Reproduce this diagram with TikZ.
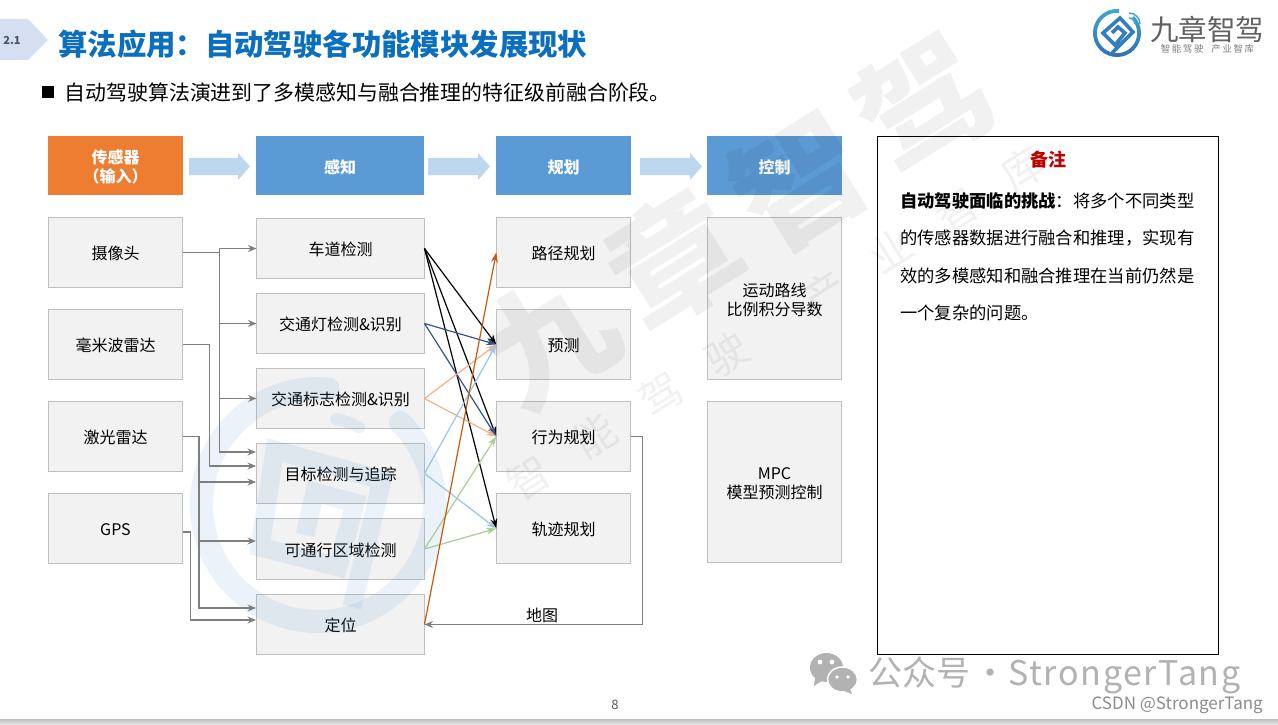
\documentclass[tikz,border=0pt]{standalone}
\usepackage{fontspec}
\setmainfont{Noto Sans CJK SC}
\usetikzlibrary{arrows.meta,calc}
\definecolor{hdrblue}{HTML}{5B9BD5}
\definecolor{hdrorange}{HTML}{ED7D31}
\definecolor{barrow}{HTML}{BDD7EE}
\definecolor{boxfill}{HTML}{F2F2F2}
\definecolor{boxline}{HTML}{BFBFBF}
\definecolor{conn}{HTML}{7F7F7F}
\definecolor{dkblue}{HTML}{2F5597}
\definecolor{ltorange}{HTML}{F4B183}
\definecolor{ltblue}{HTML}{9DC3E6}
\definecolor{ltgreen}{HTML}{A9D18E}
\definecolor{dkorange}{HTML}{C55A11}
\definecolor{titleblue}{HTML}{0B6FBE}
\definecolor{tagfill}{HTML}{D6DFF2}
\definecolor{tagtext}{HTML}{44546A}
\definecolor{logoA}{HTML}{3FA9C9}
\definecolor{logoB}{HTML}{2F6DB5}
\newcommand{\fs}[1]{\fontsize{#1}{#1}\selectfont}
\newcommand{\logomark}{(-5,20) -- (16,-1) -- (3,-15) -- (-14,0) -- (-2,12) -- (8,0) -- (1,-6) -- (-5,0)}
\newcommand{\gp}{\hspace{36pt}}
\tikzset{
  hdr/.style={draw=none,fill=hdrblue,text=white,font=\fs{16}\bfseries,minimum width=135pt,minimum height=59pt,inner sep=0pt,outer sep=0pt,text height=15pt,text depth=0pt},
  graybox/.style={draw=boxline,line width=0.9pt,fill=boxfill,text=black,font=\fs{16},minimum width=134.5pt,minimum height=70.5pt,inner sep=0pt,outer sep=0pt,text height=14pt,text depth=0pt},
  midbox/.style={graybox,minimum width=168pt,minimum height=60.5pt},
  twolines/.style={inner sep=0pt,align=center,font=\fontsize{16}{19}\selectfont},
  link/.style={draw=conn,line width=1.2pt,-{Stealth[length=8.5pt,width=7pt]}},
  plainline/.style={draw=conn,line width=1.2pt},
  cross/.style={line width=1.2pt,-{Stealth[length=10pt,width=7pt]}},
  blockarrow/.style={fill=barrow,draw=none},
}
\begin{document}
\begin{tikzpicture}[x=1pt,y=-1pt]
\useasboundingbox (0,0) rectangle (1278,725);
\fill[white] (0,0) rectangle (1278,725);
% bottom bar
\shade[top color=black!25,bottom color=black!8] (0,719) rectangle (1278,725);
% title
\fill[tagfill] (0,19) -- (28,19) -- (48,40) -- (28,60) -- (0,60) -- cycle;
\node[font=\fs{11}\bfseries,text=tagtext] (tag) at (12,41) {2.1};
\node[anchor=west,inner sep=0pt,font=\fs{29.4}\bfseries,text=titleblue] (title) at (58,44) {算法应用：自动驾驶各功能模块发展现状};
\fill[black] (42,86) rectangle (54,98);
\node[anchor=west,inner sep=0pt,font=\fs{20.9}] (sub) at (64.5,93) {自动驾驶算法演进到了多模感知与融合推理的特征级前融合阶段。};
% headers
\node[hdr,fill=hdrorange] (h1) at (115.5,165.5) {};
\node[text=white,font=\fontsize{16}{19}\bfseries,align=center,inner sep=0pt] (h1t) at (115.5,167) {传感器\\（输入）};
\node[hdr,minimum width=168pt] (h2) at (340,165.5) {感知};
\node[hdr] (h3) at (563.5,165.5) {规划};
\node[hdr] (h4) at (774.5,165.5) {控制};
\path[blockarrow] (189,158) -- (238,158) -- (238,153) -- (250,166.5) -- (238,180) -- (238,175) -- (189,175) -- cycle;
\path[blockarrow] (428,158) -- (478,158) -- (478,153) -- (490,166.5) -- (478,180) -- (478,175) -- (428,175) -- cycle;
\path[blockarrow] (640,158) -- (690,158) -- (690,153) -- (702,166.5) -- (690,180) -- (690,175) -- (640,175) -- cycle;
% column 1
\node[graybox] (s1) at (115.5,252.5) {摄像头};
\node[graybox] (s2) at (115.5,344.5) {毫米波雷达};
\node[graybox] (s3) at (115.5,436.5) {激光雷达};
\node[graybox] (s4) at (115.5,528.5) {GPS};
% column 2
\node[midbox] (a1) at (340.5,248.5) {车道检测};
\node[midbox] (a2) at (340.5,323.5) {交通灯检测\&识别};
\node[midbox] (a3) at (340.5,398.5) {交通标志检测\&识别};
\node[midbox] (a4) at (340.5,473.5) {目标检测与追踪};
\node[midbox] (a5) at (340.5,549) {可通行区域检测};
\node[midbox] (a6) at (340.5,624.5) {定位};
% column 3
\node[graybox] (p1) at (563.5,252.5) {路径规划};
\node[graybox] (p2) at (563.5,344.5) {预测};
\node[graybox] (p3) at (563.5,436.5) {行为规划};
\node[graybox] (p4) at (563.5,528.5) {轨迹规划};
% column 4
\node[graybox,minimum height=162.5pt] (c1) at (774.5,298.5) {};
\node[twolines] (c1t) at (774.5,299.5) {运动路线\\比例积分导数};
\node[graybox,minimum height=161.5pt] (c2) at (774.5,482) {};
\node[twolines] (c2t) at (774.5,484) {MPC\\模型预测控制};
% note box
\node[draw=black,line width=1.2pt,fill=white,minimum width=341pt,minimum height=518.5pt,inner sep=0pt,outer sep=0pt] (note) at (1048,395.5) {};
\node[font=\fs{18}\bfseries,text=red!75!black,inner sep=0pt] (noteh) at (1048,160) {备注};
\node[anchor=north west,inner sep=0pt,align=left,font=\fontsize{17.3}{37.6}\selectfont] (notet) at (900,192) {\textbf{自动驾驶面临的挑战}：将多个不同类型\\的传感器数据进行融合和推理，实现有\\效的多模感知和融合推理在当前仍然是\\一个复杂的问题。};
% watermark
\begin{scope}[opacity=0.055]
\node[rotate=32,font=\fs{128}\bfseries,text=black,inner sep=0pt] (wm1) at (736,220) {九\hspace{19pt}章\hspace{19pt}智\hspace{19pt}驾};
\node[rotate=32,font=\fs{42},text=black,inner sep=0pt] (wm2) at (776,323) {智\gp 能\gp 驾\gp 驶\gp\hspace{37pt}产\gp 业\gp 智\gp 库};
\end{scope}
\begin{scope}[opacity=0.12]
\draw[hdrblue,line width=23pt,line cap=round] (318,505) ++(-45:116.5) arc[start angle=-45,end angle=275,radius=116.5];
\draw[hdrblue,line width=12pt,line cap=round] (318,505) ++(-62:88) arc[start angle=-62,end angle=-78,radius=88];
\draw[hdrblue,line width=19pt,line join=miter] (352,607) -- (382,480) -- (275,450) -- (260,547) -- (338,567) -- (355,503) -- (315,492) -- (305,535);
\end{scope}
% connectors
\coordinate (a4i1) at (256,452);
\coordinate (a4i2) at (256,466);
\coordinate (a4i3) at (256,482);
\coordinate (a5i) at (256,541);
\coordinate (a6i1) at (256,608);
\coordinate (a6i2) at (256,620);
\coordinate (v1) at (219.5,252.5);
\coordinate (v3) at (199,436.5);
\draw[plainline,line width=1.6pt] (s1.east) -- (v1);
\draw[link] (v1) |- (a1.west);
\draw[link] (v1) |- (a2.west);
\draw[link] (v1) |- (a3.west);
\draw[link] (v1) |- (a4i1);
\draw[link] (s2.east) -- ++(27,0) |- (a4i2);
\draw[link] (s3.east) -- (v3) |- (a4i3);
\draw[link] (v3) |- (a5i);
\draw[link] (v3) |- (a6i1);
\draw[link] (s4.east) ++(0,3.5) -- ++(8,0) |- (a6i2);
\draw[cross,black] (a1.east) -- (p2.west);
\draw[cross,black] (a1.east) -- (p3.west);
\draw[cross,black] (a1.east) -- (p4.west);
\draw[cross,dkblue] (a2.east) -- (p2.west);
\draw[cross,dkblue] (a2.east) -- (p3.west);
\draw[cross,ltorange] (a3.east) -- (p2.west);
\draw[cross,ltorange] (a3.east) -- (p3.west);
\draw[cross,ltblue] (a4.east) -- (p2.west);
\draw[cross,ltblue] (a4.east) -- (p4.west);
\draw[cross,ltgreen] (a5.east) -- (p3.west);
\draw[cross,ltgreen] (a5.east) -- (p4.west);
\draw[cross,dkorange] (a6.east) -- (p1.west);
\draw[link] (p3.east) -- ++(12,0) |- (a6.east);
\node[font=\fs{16},inner sep=0pt] (map) at (542,615) {地图};
% page number
\node[font=\fs{13},text=black!65,inner sep=0pt] (pg) at (615,705) {8};
% logo
\begin{scope}[shift={(1117,33)}]
\shade[top color=logoA,bottom color=logoB] (-45:24) arc[start angle=-45,end angle=275,radius=24] -- (275:20.2) arc[start angle=275,end angle=-45,radius=20.2] -- cycle;
\draw[logoB!70!logoA,line width=3.6pt,line join=miter] \logomark;
\draw[logoA,line width=1.5pt] (12,-15) arc[start angle=-90,end angle=0,radius=6];
\draw[logoA,line width=1.5pt] (12,-20) arc[start angle=-90,end angle=0,radius=11];
\end{scope}
\node[font=\fs{28.5},text=black!62,inner sep=0pt] (lg1) at (1207,29) {九章智驾};
\node[font=\fs{9.5},text=black!50,inner sep=0pt] (lg2) at (1207.5,49) {智\,能\,驾\,驶\ \ \ \,产\,业\,智\,库};
% wechat watermark
\fill[black!30] (826.5,667.5) ellipse (16.5 and 14.5);
\fill[black!30] (815,678) -- (814,686) -- (823,680) -- cycle;
\draw[white,line width=1.5pt,fill=black!30] (842.5,679.5) ellipse (15 and 12.5);
\fill[black!30] (850,689) -- (852,694) -- (844,691) -- cycle;
\fill[white] (820,662) circle (2.4) (832,662) circle (2.4) (837,677) circle (1.8) (848,677) circle (1.8);
\node[anchor=west,font=\fs{34},text=black!30,inner sep=0pt] (wx) at (868,675) {公众号\hspace{3pt}·\hspace{1pt}\addfontfeature{LetterSpace=5}StrongerTang};
\node[anchor=east,font=\fs{17},text=black!45,inner sep=0pt] (csdn) at (1263,705.5) {CSDN @StrongerTang};
\end{tikzpicture}
\end{document}
